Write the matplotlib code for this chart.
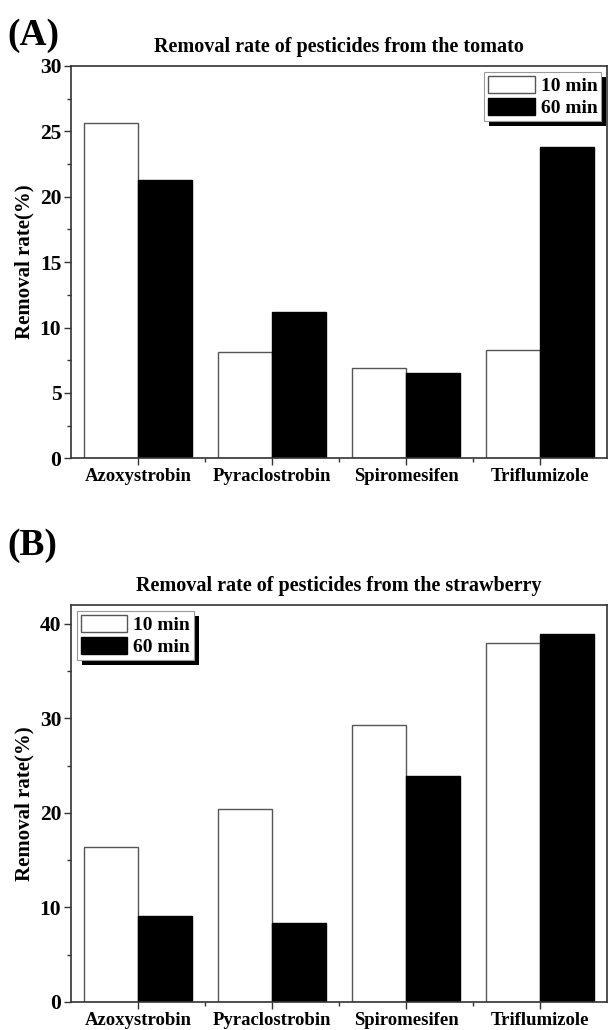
import matplotlib
matplotlib.use("Agg")
import matplotlib.pyplot as plt
from matplotlib.patches import Rectangle
import numpy as np

pesticides = ["Azoxystrobin", "Pyraclostrobin", "Spiromesifen", "Triflumizole"]
series_names = ["10 min", "60 min"]

tomato_10 = [25.6, 8.1, 6.9, 8.3]
tomato_60 = [21.3, 11.15, 6.55, 23.8]
straw_10 = [16.4, 20.4, 29.3, 38.0]
straw_60 = [9.05, 8.4, 23.9, 38.9]

plt.rcParams["font.family"] = ["Liberation Serif", "DejaVu Serif"]
plt.rcParams["font.weight"] = "bold"

fig = plt.figure(figsize=(6.12, 10.30), dpi=100)
axA = fig.add_axes([0.116, 0.555, 0.876, 0.381])
axB = fig.add_axes([0.116, 0.0272, 0.876, 0.3854])

x = np.arange(1, len(pesticides) + 1)
w = 0.4
spine_col = "#333333"


def panel(ax, v10, v60, ymax, major, minor, title, loc):
    ax.bar(x - w, v10, w, align="edge", color="white", edgecolor="#555555",
           linewidth=1.0, label=series_names[0])
    ax.bar(x, v60, w, align="edge", color="black", edgecolor="black",
           linewidth=1.0, label=series_names[1])
    ax.set_xlim(0.5, 4.5)
    ax.set_ylim(0, ymax)
    ax.set_yticks(np.arange(0, ymax + 0.01, major))
    ax.set_yticks(np.arange(0, ymax + 0.01, minor), minor=True)
    ax.set_xticks(x)
    ax.set_xticks(x[:-1] + 0.5, minor=True)
    ax.set_xticklabels(pesticides, fontsize=13.5, fontweight="bold")
    for t in ax.get_yticklabels():
        t.set_fontsize(15.5)
        t.set_fontweight("bold")
    ax.tick_params(axis="both", which="major", direction="out", length=5,
                   width=1.0, color=spine_col, pad=2)
    ax.tick_params(axis="both", which="minor", direction="out", length=3,
                   width=1.0, color=spine_col)
    for s in ax.spines.values():
        s.set_color(spine_col)
        s.set_linewidth(1.2)
    ax.set_ylabel("Removal rate(%)", fontsize=15, fontweight="bold", labelpad=4)
    ax.set_title(title, fontsize=14.5, fontweight="bold", pad=10)
    leg = ax.legend(loc=loc, fancybox=False, frameon=True, framealpha=1,
                    edgecolor="#999999", fontsize=14, handlelength=2.4,
                    handleheight=1.0, handletextpad=0.3, borderpad=0.2,
                    labelspacing=0.15, borderaxespad=0.3)
    leg.get_frame().set_linewidth(0.8)
    for t in leg.get_texts():
        t.set_fontweight("bold")
    return leg


legA = panel(axA, tomato_10, tomato_60, 30, 5, 2.5,
             "Removal rate of pesticides from the tomato", "upper right")
legB = panel(axB, straw_10, straw_60, 42, 10, 5,
             "Removal rate of pesticides from the strawberry", "upper left")

# solid black drop shadow behind each legend box, offset down-right
fig.canvas.draw()
for leg in (legA, legB):
    bb = leg.get_window_extent()
    fig.patches.append(Rectangle((bb.x0 + 5, bb.y0 - 5), bb.width, bb.height,
                                 transform=None, facecolor="black",
                                 edgecolor="none", zorder=10))
    leg.set_zorder(20)
    leg.remove()
    fig.legends.append(leg)
    leg.set_figure(fig)

fig.text(0.012, 0.966, "(A)", fontsize=27, fontweight="bold", va="center")
fig.text(0.012, 0.470, "(B)", fontsize=27, fontweight="bold", va="center")

fig.savefig("out.png", dpi=100)
